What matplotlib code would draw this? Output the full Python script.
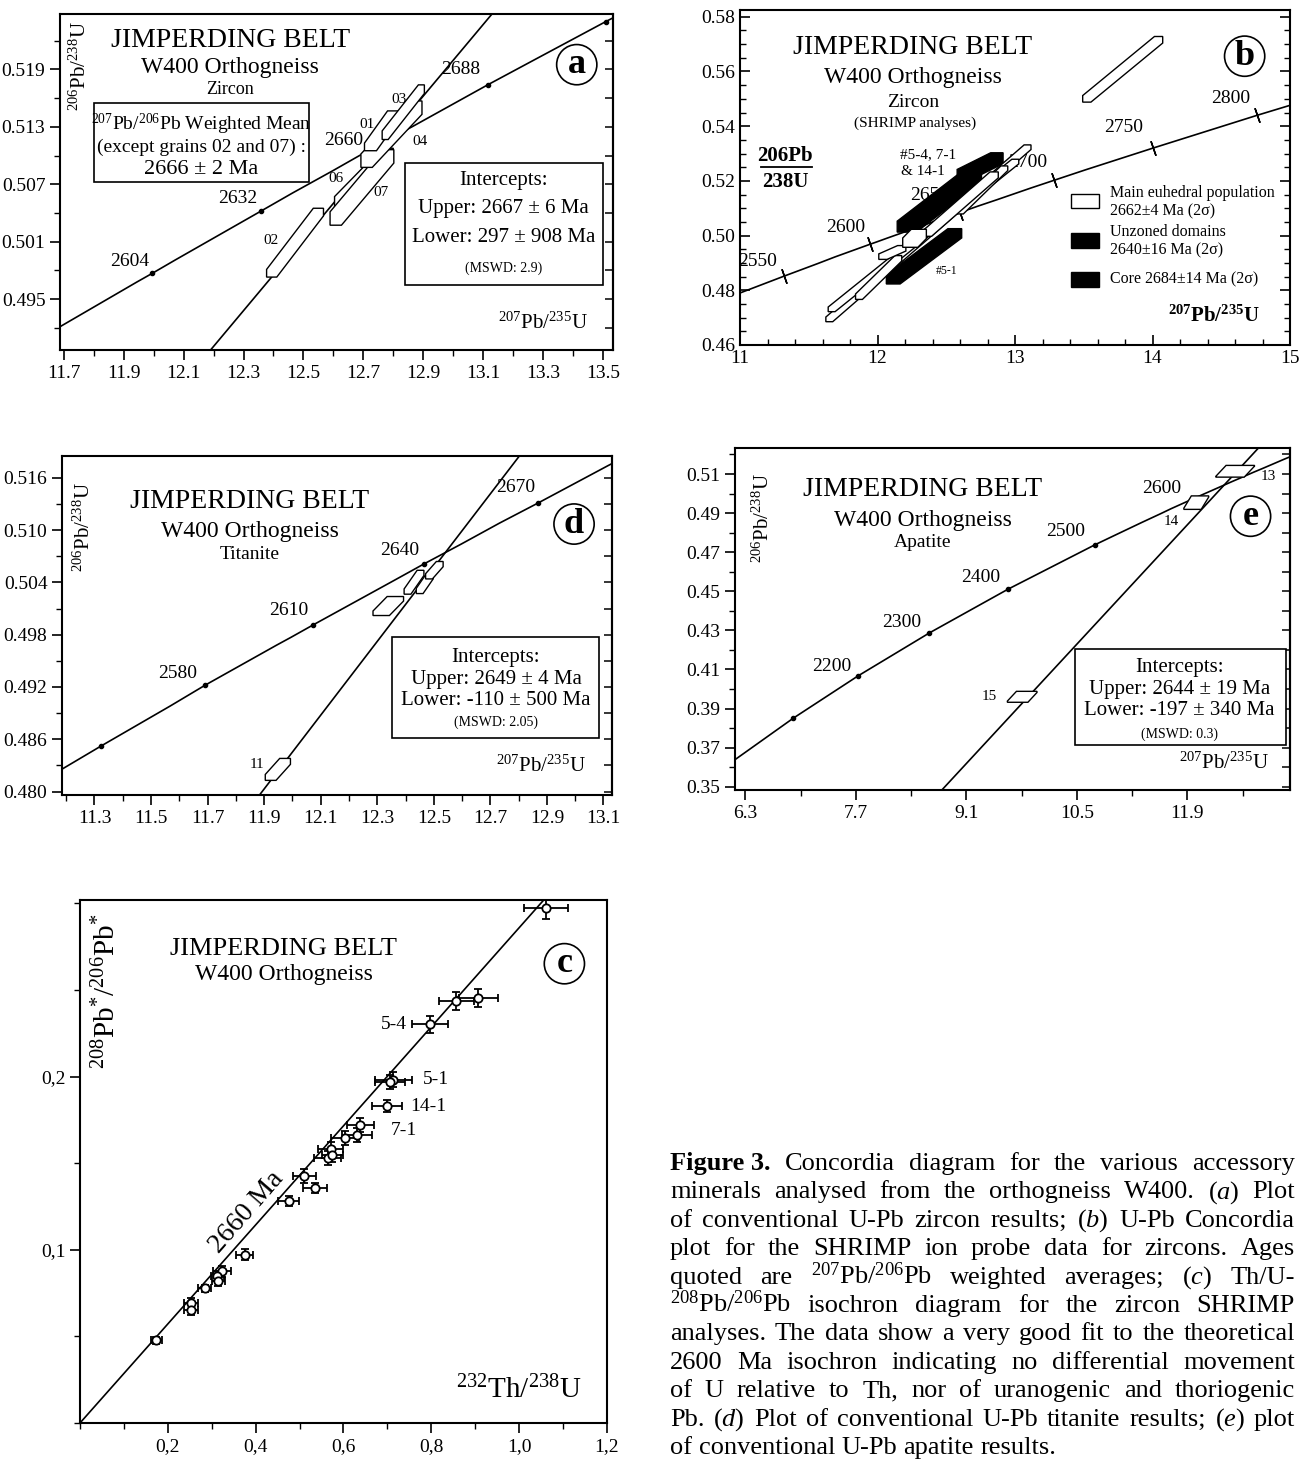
import numpy as np
import matplotlib
matplotlib.use("Agg")
import matplotlib.pyplot as plt
from matplotlib.patches import Polygon, Rectangle
from matplotlib.ticker import MultipleLocator, FixedLocator, FuncFormatter

plt.rcParams["font.family"] = "Liberation Serif"
plt.rcParams["mathtext.fontset"] = "custom"
plt.rcParams["mathtext.rm"] = "Liberation Serif"
plt.rcParams["mathtext.it"] = "Liberation Serif:italic"
plt.rcParams["mathtext.bf"] = "Liberation Serif:bold"

# ----------------------------------
# concordia (age, 207Pb/235U, 206Pb/238U)
# ----------------------------------
CONC_AGE = [2000, 2100, 2200, 2300, 2400, 2500, 2520, 2550, 2570, 2580, 2600, 2604, 2610,
            2632, 2640, 2650, 2660, 2670, 2688, 2700, 2716, 2750, 2800, 2830]
CONC_X = [6.169, 6.910, 7.729, 8.633, 9.630, 10.730, 10.963, 11.322, 11.567, 11.691, 11.944, 11.995, 12.072,
          12.358, 12.464, 12.597, 12.732, 12.868, 13.116, 13.283, 13.510, 14.004, 14.762, 15.234]
CONC_Y = [0.3638, 0.3851, 0.4067, 0.4287, 0.4511, 0.4738, 0.4783, 0.4852, 0.4898, 0.4922, 0.4968, 0.4977, 0.4991,
          0.5042, 0.5061, 0.5084, 0.5108, 0.5131, 0.5174, 0.5202, 0.5240, 0.5320, 0.5440, 0.5512]

# ----------------------------------
# (a) zircon, conventional
# ----------------------------------
A_MARKS = [2604, 2632, 2660, 2688, 2716]
A_DISC_X = [12.19, 13.13]
A_DISC_Y = [0.4897, 0.5248]
A_NAMES = ["02", "06", "07", "04", "01", "03"]
A_X1 = [12.394, 12.623, 12.608, 12.711, 12.724, 12.773]
A_Y1 = [0.49771, 0.50512, 0.50343, 0.50947, 0.51091, 0.51213]
A_X2 = [12.550, 12.781, 12.783, 12.877, 12.801, 12.894]
A_Y2 = [0.50410, 0.51017, 0.50992, 0.51501, 0.51427, 0.51694]
A_DX = [0.017, 0.019, 0.019, 0.019, 0.020, 0.010]
A_DY = [0.0004, 0.0006, 0.0007, 0.0007, 0.0004, 0.00045]
A_XTICKS = [11.7, 11.9, 12.1, 12.3, 12.5, 12.7, 12.9, 13.1, 13.3, 13.5]
A_YTICKS = [0.495, 0.501, 0.507, 0.513, 0.519]

# ----------------------------------
# (b) zircon, SHRIMP
# ----------------------------------
B_TICKS = [2550, 2600, 2650, 2700, 2750, 2800]
B_BLACK_X1 = [12.213, 12.624, 12.114]
B_BLACK_Y1 = [0.50327, 0.52218, 0.48400]
B_BLACK_X2 = [12.686, 12.868, 12.562]
B_BLACK_Y2 = [0.52157, 0.52828, 0.50083]
B_BLACK_DX = [0.070, 0.045, 0.050]
B_BLACK_DY = [0.0020, 0.0020, 0.0017]
B_WHITE_X1 = [11.649, 11.666, 11.865, 12.039, 12.599, 12.363, 12.238, 13.522]
B_WHITE_Y1 = [0.46935, 0.47302, 0.47765, 0.49229, 0.50876, 0.50083, 0.49741, 0.5500]
B_WHITE_X2 = [13.091, 13.002, 12.151, 12.176, 12.922, 12.848, 12.300, 14.044]
B_WHITE_Y2 = [0.53231, 0.52706, 0.49168, 0.49534, 0.52462, 0.52218, 0.50059, 0.5716]
B_WHITE_DX = [0.025, 0.025, 0.025, 0.030, 0.025, 0.030, 0.055, 0.030]
B_WHITE_DY = [0.00085, 0.00085, 0.0010, 0.0010, 0.00085, 0.0011, 0.0017, 0.0012]
B_XTICKS = [11, 12, 13, 14, 15]
B_YTICKS = [0.46, 0.48, 0.50, 0.52, 0.54, 0.56, 0.58]

# ----------------------------------
# (d) titanite
# ----------------------------------
D_MARKS = [2550, 2580, 2610, 2640, 2670]
D_DISC_X = [11.886, 12.80]
D_DISC_Y = [0.4797, 0.5184]
D_X1 = [11.923, 12.314, 12.407, 12.450, 12.483]
D_Y1 = [0.48162, 0.50046, 0.50295, 0.50302, 0.50470]
D_X2 = [11.974, 12.364, 12.453, 12.486, 12.521]
D_Y2 = [0.48346, 0.50212, 0.50509, 0.50471, 0.50610]
D_DX = [0.019, 0.029, 0.012, 0.012, 0.012]
D_DY = [0.00034, 0.00026, 0.0003, 0.0003, 0.0003]
D_XTICKS = [11.3, 11.5, 11.7, 11.9, 12.1, 12.3, 12.5, 12.7, 12.9, 13.1]
D_YTICKS = [0.480, 0.486, 0.492, 0.498, 0.504, 0.510, 0.516]

# ----------------------------------
# (e) apatite
# ----------------------------------
E_MARKS = [2100, 2200, 2300, 2400, 2500, 2600]
E_DISC_X = [8.79, 12.80]
E_DISC_Y = [0.3483, 0.5233]
E_X1 = [12.44, 11.965, 9.75]
E_Y1 = [0.5086, 0.4922, 0.3935]
E_X2 = [12.57, 12.06, 9.865]
E_Y2 = [0.5142, 0.4985, 0.3985]
E_DX = [0.18, 0.11, 0.13]
E_DY = [0.0002, 0.0003, 0.0003]
E_XTICKS = [6.3, 7.7, 9.1, 10.5, 11.9]
E_YTICKS = [0.35, 0.37, 0.39, 0.41, 0.43, 0.45, 0.47, 0.49, 0.51]

# ----------------------------------
# (c) Th/U isochron
# ----------------------------------
C_X = [1.062, 0.857, 0.907, 0.797, 0.713, 0.706, 0.700, 0.638, 0.630, 0.604, 0.571, 0.564,
       0.575, 0.511, 0.535, 0.475, 0.375, 0.324, 0.313, 0.315, 0.284, 0.253, 0.253, 0.174]
C_Y = [0.2976, 0.2436, 0.2454, 0.2302, 0.1983, 0.1970, 0.1832, 0.1719, 0.1663, 0.1648, 0.1583, 0.1529,
       0.1545, 0.1425, 0.1356, 0.1281, 0.0972, 0.0875, 0.0849, 0.0823, 0.0778, 0.0691, 0.0654, 0.0477]
C_XERR = [0.050, 0.040, 0.044, 0.040, 0.042, 0.035, 0.034, 0.031, 0.034, 0.032, 0.028, 0.030,
          0.025, 0.026, 0.028, 0.024, 0.020, 0.020, 0.015, 0.015, 0.015, 0.016, 0.016, 0.012]
C_YERR = [0.0065, 0.005, 0.005, 0.005, 0.0045, 0.004, 0.0035, 0.004, 0.004, 0.004, 0.004, 0.004,
          0.004, 0.004, 0.003, 0.003, 0.003, 0.003, 0.003, 0.003, 0.002, 0.003, 0.003, 0.002]
C_LINE_X = [0.0, 1.063]
C_LINE_Y = [0.0, 0.304]
C_XTICKS = [0.2, 0.4, 0.6, 0.8, 1.0, 1.2]
C_YTICKS = [0.1, 0.2]

CAPTION = [
    ["Figure 3.", "Concordia", "diagram", "for", "the", "various", "accessory"],
    ["minerals", "analysed", "from", "the", "orthogneiss", "W400.", r"($\mathit{a}$)", "Plot"],
    ["of", "conventional", "U-Pb", "zircon", "results;", r"($\mathit{b}$)", "U-Pb", "Concordia"],
    ["plot", "for", "the", "SHRIMP", "ion", "probe", "data", "for", "zircons.", "Ages"],
    ["quoted", "are", r"$^{207}$Pb/$^{206}$Pb", "weighted", "averages;", r"($\mathit{c}$)", "Th/U-"],
    [r"$^{208}$Pb/$^{206}$Pb", "isochron", "diagram", "for", "the", "zircon", "SHRIMP"],
    ["analyses.", "The", "data", "show", "a", "very", "good", "fit", "to", "the", "theoretical"],
    ["2600", "Ma", "isochron", "indicating", "no", "differential", "movement"],
    ["of", "U", "relative", "to", "Th,", "nor", "of", "uranogenic", "and", "thoriogenic"],
    ["Pb.", r"($\mathit{d}$)", "Plot", "of", "conventional", "U-Pb", "titanite", "results;",
     r"($\mathit{e}$)", "plot"],
    ["of", "conventional", "U-Pb", "apatite", "results."],
]

# ==================================
# helpers
# ==================================

def draw_box(ax, x1, y1, x2, y2, dx, dy, fc="white", z=3):
    pts = [(x1 - dx, y1 - dy), (x1 + dx, y1 - dy), (x2 + dx, y2 - dy),
           (x2 + dx, y2 + dy), (x2 - dx, y2 + dy), (x1 - dx, y1 + dy)]
    ax.add_patch(Polygon(pts, closed=True, fc=fc, ec="black", lw=1.0, zorder=z))


def concordia(ax, marks, style="dot"):
    ax.plot(CONC_X, CONC_Y, color="black", lw=1.2, zorder=2)
    mx = [CONC_X[CONC_AGE.index(a)] for a in marks]
    my = [CONC_Y[CONC_AGE.index(a)] for a in marks]
    if style == "dot":
        ax.plot(mx, my, "o", color="black", ms=3, zorder=2)
    else:
        ax.plot(mx, my, marker=(2, 2, 19), ls="none", color="black", ms=11, mew=1.1, zorder=2)


def frame(ax, xticks, xfmt, yticks, yfmt, xminor, yminor, direction="out"):
    ax.xaxis.set_major_locator(FixedLocator(xticks))
    ax.yaxis.set_major_locator(FixedLocator(yticks))
    ax.xaxis.set_major_formatter(FuncFormatter(xfmt))
    ax.yaxis.set_major_formatter(FuncFormatter(yfmt))
    ax.xaxis.set_minor_locator(MultipleLocator(xminor))
    ax.yaxis.set_minor_locator(MultipleLocator(yminor))
    ax.tick_params(which="major", direction=direction, length=7, width=1.2, labelsize=14)
    ax.tick_params(which="minor", direction=direction, length=4, width=1.0)
    for s in ax.spines.values():
        s.set_linewidth(1.5)


def right_ticks(ax, step):
    sec = ax.secondary_yaxis("right")
    sec.yaxis.set_major_locator(MultipleLocator(step))
    sec.tick_params(direction="in", length=6, width=1.1, labelright=False)
    sec.spines["right"].set_linewidth(1.5)


def letter(ax, x, y, s):
    ax.text(x, y, s, fontsize=26, fontweight="bold", ha="center", va="center", zorder=7,
            bbox=dict(boxstyle="circle,pad=0.1", fc="white", ec="black", lw=1.2))


def textbox(ax, x0, y0, w, h):
    ax.add_patch(Rectangle((x0, y0), w, h, fc="white", ec="black", lw=1.2, zorder=5))


def t(ax, x, y, s, fs=14, **kw):
    kw.setdefault("ha", "center")
    kw.setdefault("va", "center")
    kw.setdefault("zorder", 6)
    ax.text(x, y, s, fontsize=fs, **kw)


PB68 = r"$^{206}$Pb/$^{238}$U"
PB75 = r"$^{207}$Pb/$^{235}$U"

fig = plt.figure(figsize=(13.02, 14.66), dpi=100)

# ==================================
# (a)
# ==================================
ax = fig.add_axes([0.0461, 0.7613, 0.4247, 0.2292])
ax.set_xlim(11.687, 13.534)
ax.set_ylim(0.4897, 0.5248)
concordia(ax, A_MARKS)
ax.plot(A_DISC_X, A_DISC_Y, color="black", lw=1.2, zorder=2)
for i in range(len(A_X1)):
    draw_box(ax, A_X1[i], A_Y1[i], A_X2[i], A_Y2[i], A_DX[i], A_DY[i])
for s, x, y in zip(A_NAMES, [12.393, 12.61, 12.76, 12.891, 12.713, 12.818],
                   [0.5011, 0.5076, 0.5061, 0.5115, 0.5133, 0.5159]):
    t(ax, x, y, s, fs=11)
for s, x, y in zip(["2604", "2632", "2660", "2688"], [11.92, 12.282, 12.633, 13.025],
                   [0.4989, 0.5055, 0.5116, 0.5190]):
    t(ax, x, y, s, fs=14)
t(ax, 12.256, 0.5220, "JIMPERDING BELT", fs=20)
t(ax, 12.256, 0.5192, "W400 Orthogneiss", fs=17)
t(ax, 12.256, 0.5169, "Zircon", fs=13)
textbox(ax, 11.80, 0.5072, 0.72, 0.0083)
t(ax, 12.159, 0.5133, r"$^{207}$Pb/$^{206}$Pb Weighted Mean", fs=14)
t(ax, 12.159, 0.5109, "(except grains 02 and 07) :", fs=14)
t(ax, 12.159, 0.5085, "2666 ± 2 Ma", fs=16)
textbox(ax, 12.838, 0.4965, 0.662, 0.0127)
t(ax, 13.169, 0.5074, "Intercepts:", fs=15)
t(ax, 13.169, 0.5045, "Upper: 2667 ± 6 Ma", fs=15)
t(ax, 13.169, 0.5014, "Lower: 297 ± 908 Ma", fs=15)
t(ax, 13.169, 0.4982, "(MSWD: 2.9)", fs=10)
t(ax, 11.754, 0.5194, PB68, fs=15, rotation=90)
t(ax, 13.30, 0.4925, PB75, fs=15)
letter(ax, 13.413, 0.5195, "a")
frame(ax, A_XTICKS, lambda v, p: f"{v:.1f}", A_YTICKS, lambda v, p: f"{v:.3f}", 0.1, 0.003)
right_ticks(ax, 0.003)

# ==================================
# (b)
# ==================================
ax = fig.add_axes([0.5684, 0.7647, 0.4224, 0.2285])
ax.set_xlim(11, 15)
ax.set_ylim(0.46, 0.5825)
concordia(ax, B_TICKS, style="tick")
for i in range(len(B_BLACK_X1)):
    draw_box(ax, B_BLACK_X1[i], B_BLACK_Y1[i], B_BLACK_X2[i], B_BLACK_Y2[i],
             B_BLACK_DX[i], B_BLACK_DY[i], fc="black", z=3)
for i in range(len(B_WHITE_X1)):
    draw_box(ax, B_WHITE_X1[i], B_WHITE_Y1[i], B_WHITE_X2[i], B_WHITE_Y2[i],
             B_WHITE_DX[i], B_WHITE_DY[i], fc="white", z=4)
for s, x, y in zip(["2550", "2600", "2650", "2700", "2750", "2800"],
                   [11.13, 11.77, 12.38, 13.09, 13.79, 14.57],
                   [0.4906, 0.5028, 0.5146, 0.5266, 0.5394, 0.5500]):
    t(ax, x, y, s, fs=14, zorder=1)
t(ax, 12.254, 0.5686, "JIMPERDING BELT", fs=20)
t(ax, 12.254, 0.5578, "W400 Orthogneiss", fs=17)
t(ax, 12.26, 0.5488, "Zircon", fs=14)
t(ax, 12.27, 0.5410, "(SHRIMP analyses)", fs=11)
t(ax, 12.37, 0.5296, "#5-4, 7-1", fs=11)
t(ax, 12.33, 0.5233, "& 14-1", fs=11)
t(ax, 12.50, 0.4870, "#5-1", fs=8.5)
t(ax, 11.33, 0.5292, "206Pb", fs=15, fontweight="bold")
ax.plot([11.15, 11.52], [0.5252, 0.5252], color="black", lw=1.3)
t(ax, 11.33, 0.5195, "238U", fs=15, fontweight="bold")
t(ax, 14.45, 0.4705, r"$\mathbf{^{207}Pb/^{235}U}$", fs=15)
for i, (fc, l1, l2) in enumerate([("white", "Main euhedral population", "2662±4 Ma (2σ)"),
                                  ("black", "Unzoned domains", "2640±16 Ma (2σ)"),
                                  ("black", "Core 2684±14 Ma (2σ)", None)]):
    yc = 0.5126 - i * 0.0144
    ax.add_patch(Rectangle((13.41, yc - 0.0027), 0.20, 0.0054, fc=fc, ec="black", lw=1.0, zorder=5))
    if l2 is None:
        t(ax, 13.69, yc, l1, fs=11.5, ha="left")
    else:
        t(ax, 13.69, yc + 0.0030, l1, fs=11.5, ha="left")
        t(ax, 13.69, yc - 0.0036, l2, fs=11.5, ha="left")
letter(ax, 14.67, 0.5656, "b")
frame(ax, B_XTICKS, lambda v, p: f"{v:.0f}", B_YTICKS, lambda v, p: f"{v:.2f}", 0.2, 0.005,
      direction="in")
ax.tick_params(which="both", right=True)

# ==================================
# (d)
# ==================================
ax = fig.add_axes([0.0476, 0.4577, 0.4224, 0.2312])
ax.set_xlim(11.185, 13.13)
ax.set_ylim(0.4796, 0.5185)
concordia(ax, D_MARKS)
ax.plot(D_DISC_X, D_DISC_Y, color="black", lw=1.2, zorder=2)
for i in range(len(D_X1)):
    draw_box(ax, D_X1[i], D_Y1[i], D_X2[i], D_Y2[i], D_DX[i], D_DY[i])
t(ax, 11.876, 0.4831, "11", fs=11)
for s, x, y in zip(["2580", "2610", "2640", "2670"], [11.593, 11.986, 12.379, 12.789],
                   [0.4936, 0.5008, 0.5077, 0.5149]):
    t(ax, x, y, s, fs=14)
t(ax, 11.85, 0.5133, "JIMPERDING BELT", fs=20)
t(ax, 11.85, 0.5099, "W400 Orthogneiss", fs=17)
t(ax, 11.85, 0.5072, "Titanite", fs=14)
textbox(ax, 12.353, 0.4862, 0.733, 0.0115)
t(ax, 12.72, 0.4954, "Intercepts:", fs=15)
t(ax, 12.72, 0.4929, "Upper: 2649 ± 4 Ma", fs=15)
t(ax, 12.72, 0.4904, "Lower: -110 ± 500 Ma", fs=15)
t(ax, 12.72, 0.4879, "(MSWD: 2.05)", fs=10)
t(ax, 11.264, 0.5104, PB68, fs=15, rotation=90)
t(ax, 12.88, 0.4829, PB75, fs=15)
letter(ax, 12.996, 0.5107, "d")
frame(ax, D_XTICKS, lambda v, p: f"{v:.1f}", D_YTICKS, lambda v, p: f"{v:.3f}", 0.1, 0.003)
right_ticks(ax, 0.003)

# ==================================
# (e)
# ==================================
ax = fig.add_axes([0.5645, 0.4611, 0.4263, 0.2333])
ax.set_xlim(6.17, 13.2)
ax.set_ylim(0.3483, 0.5233)
concordia(ax, E_MARKS)
ax.plot(E_DISC_X, E_DISC_Y, color="black", lw=1.2, zorder=2)
for i in range(len(E_X1)):
    draw_box(ax, E_X1[i], E_Y1[i], E_X2[i], E_Y2[i], E_DX[i], E_DY[i])
for s, x, y in zip(["13", "14", "15"], [12.92, 11.70, 9.39], [0.5087, 0.4855, 0.3961]):
    t(ax, x, y, s, fs=11)
for s, x, y in zip(["2200", "2300", "2400", "2500", "2600"], [7.40, 8.28, 9.28, 10.36, 11.57],
                   [0.4116, 0.4339, 0.4568, 0.4805, 0.5027]):
    t(ax, x, y, s, fs=14)
t(ax, 8.55, 0.5019, "JIMPERDING BELT", fs=20)
t(ax, 8.55, 0.4862, "W400 Orthogneiss", fs=17)
t(ax, 8.55, 0.4749, "Apatite", fs=14)
textbox(ax, 10.48, 0.3714, 2.67, 0.049)
t(ax, 11.80, 0.4111, "Intercepts:", fs=15)
t(ax, 11.80, 0.3998, "Upper: 2644 ± 19 Ma", fs=15)
t(ax, 11.80, 0.3888, "Lower: -197 ± 340 Ma", fs=15)
t(ax, 11.80, 0.3770, "(MSWD: 0.3)", fs=10)
t(ax, 6.53, 0.4876, PB68, fs=15, rotation=90)
t(ax, 12.36, 0.3618, PB75, fs=15)
letter(ax, 12.70, 0.4884, "e")
frame(ax, E_XTICKS, lambda v, p: f"{v:.1f}", E_YTICKS, lambda v, p: f"{v:.2f}", 0.7, 0.01)
right_ticks(ax, 0.01)

# ==================================
# (c)
# ==================================
ax = fig.add_axes([0.0614, 0.0293, 0.4048, 0.3568])
ax.set_xlim(0, 1.2)
ax.set_ylim(0, 0.302)
ax.plot(C_LINE_X, C_LINE_Y, color="black", lw=1.2, zorder=2)
ax.errorbar(C_X, C_Y, xerr=C_XERR, yerr=C_YERR, fmt="o", ms=6, mfc="white", mec="black",
            mew=1.3, ecolor="black", elinewidth=1.3, capsize=3, capthick=1.3, zorder=3)
t(ax, 0.745, 0.2300, "5-4", fs=14, ha="right")
t(ax, 0.780, 0.1983, "5-1", fs=14, ha="left")
t(ax, 0.753, 0.1826, "14-1", fs=14, ha="left")
t(ax, 0.708, 0.1690, "7-1", fs=14, ha="left")
t(ax, 0.464, 0.2739, "JIMPERDING BELT", fs=19)
t(ax, 0.464, 0.2588, "W400 Orthogneiss", fs=17)
t(ax, 0.38, 0.1216, "2660 Ma", fs=20, rotation=49)
t(ax, 0.062, 0.249, r"$^{208}$Pb$^{*}$/$^{206}$Pb$^{*}$", fs=21, rotation=90)
t(ax, 1.0, 0.019, r"$^{232}$Th/$^{238}$U", fs=21)
letter(ax, 1.103, 0.2652, "c")
frame(ax, C_XTICKS, lambda v, p: f"{v:.1f}".replace(".", ","), C_YTICKS,
      lambda v, p: f"{v:.1f}".replace(".", ","), 0.1, 0.05)

# ==================================
# caption (justified)
# ==================================
renderer = fig.canvas.get_renderer()
W, H = fig.bbox.width, fig.bbox.height
left_px, right_px = 670, 1295
for i, words in enumerate(CAPTION):
    y_px = 1170 + 28.4 * i
    items = []
    for j, w in enumerate(words):
        bold = "bold" if (i == 0 and j == 0) else "normal"
        items.append(fig.text(0, 1 - y_px / H, w, fontsize=19, fontweight=bold,
                              ha="left", va="baseline"))
    widths = [it.get_window_extent(renderer).width for it in items]
    if i < len(CAPTION) - 1:
        gap = (right_px - left_px - sum(widths)) / (len(items) - 1)
    else:
        gap = 6.5
    x = left_px
    for it, wd in zip(items, widths):
        it.set_x(x / W)
        x += wd + gap

plt.savefig("out.png", dpi=100)
